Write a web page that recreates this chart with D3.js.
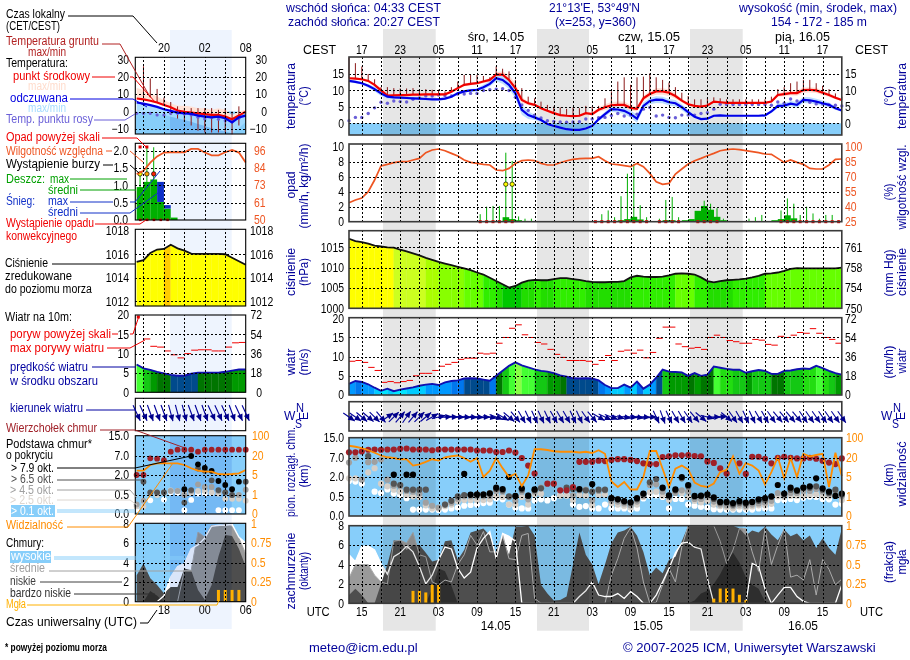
<![CDATA[<!DOCTYPE html>
<html><head><meta charset="utf-8">
<script src="https://cdn.jsdelivr.net/npm/d3@7"></script>
<style>
body{margin:0;background:#fff}
svg{display:block}
text{font-family:"Liberation Sans",Arial,sans-serif;font-size:12px}
.grid line{stroke:#000;stroke-width:1;stroke-dasharray:2 2;shape-rendering:crispEdges}
.grid .domain{display:none}
.ax .domain,.ax line{display:none}
.mult{mix-blend-mode:multiply}
</style></head><body>
<svg id="chart" width="910" height="660"></svg>
<script>
/* Meteogram: small panel on the left is the legend (recent hours), large one the forecast.
 * Hours are counted from 13 UTC on 13.05 in the main panels, left panel from 0 UTC on 13.05. */

const mainTemp = [13.7,13.6,13.4,12.9,11.7,10,8.4,8.5,8.6,8.6, 8.7,8.7,8.8,8.8,8.8,8.8,9.6,10.7,11.7,12, 12.2,12.7,13.2,14.8,14.8,13.2,10.7,7.1,6.1,5.6, 4.6,3.8,3.1,2.5,2.3,2.2,2.3,3.1,2.8,4.1, 4.9,5.5,5.6,5.6,4.7,4.4,7.6,8.9,9.7,9.7, 9.3,8.3,6.9,5.8,5.3,5.1,5.4,6.6,6.4,6.2, 6.2,6.2,6.2,6.2,6.2,6.2,6.6,8.6,8.9,9.2, 9.2,10.1,10.2,10,9.3,8.6,7.8,7.1];
const mainFeel = [12.9,12.6,12.2,11.4,10.4,9.1,8.1,7.9,7.8,7.7, 7.6,7.5,7.4,7.3,7.3,7.5,8.1,9.1,9.7,10, 10.2,11,12,13.7,13.2,11.7,9.1,4.1,2.5,1.8, 1,-0.2,-0.8,-1.3,-1.8,-2,-2,-1.6,-0.8,1.2, 2.8,4.3,4.2,3.8,2.8,1.4,5.3,6.8,7.2,7.1, 6.4,6.1,4.9,3.4,2,1.3,1.4,2.3,2.4,2.3, 2.3,2.3,2.3,2.3,2.3,2.4,3.6,5.3,5.4,6, 5.6,7.1,7,6.6,6.1,5.6,4.6,3.9];
const mainDew = [0.8,1.8,1.8,3,4.7,6.4,6.1,6.8,6.6,6.5, 7.3,7.7,8.3,8.3,8.6,8.4,8.3,8.9,8.9,9.1, 9.1,10,10.2,10.4,10.5,10,7.9,5.6,3.9,2.5, 1.6,0.8,0.6,0.4,0.3,0.4,0.5,1.3,1.3,1.7, 1.8,2.4,3,2.2,2.5,2.8,4.3,4.8,2.2,2.5, 1.8,1.7,2.5,2.5,2.5,3,3.2,4.3,5.8,5.7, 5.7,5.7,5.7,5.7,5.7,5.7,5.5,6.5,6.1,7.4, 6.8,7.1,6.4,5.9,5.9,5.6,5.5,5.3];
const mainTempSpread = [0.3,0.3,0.4,0.4,0.5,0.7,0.7,0.6,0.5,0.4, 0.4,0.4,0.4,0.4,0.4,0.4,0.4,0.4,0.4,0.4, 0.4,0.5,0.6,0.7,1,1.4,1.4,0.9,0.5,0.5, 0.5,0.4,0.4,0.4,0.4,0.4,0.4,0.4,0.5,0.6, 0.9,1,1,1,0.9,0.7,0.8,0.9,1,1, 1,0.8,0.6,0.5,0.4,0.4,0.4,0.3,0.3,0.3, 0.3,0.3,0.3,0.3,0.3,0.3,0.3,0.5,0.7,0.7, 0.8,0.8,0.8,0.8,0.7,0.6,0.5,0.4];
const mainFeelSpread = [0.4,0.4,0.4,0.5,0.7,0.8,0.6,0.5,0.4,0.4, 0.4,0.4,0.4,0.4,0.4,0.4,0.4,0.4,0.4,0.4, 0.5,0.7,0.8,0.9,1.2,1.3,1.5,1.5,1.2,0.8, 0.6,0.4,0.4,0.3,0.3,0.3,0.3,0.3,0.4,0.6, 0.7,0.8,0.9,1,1.1,1.2,1,1,1,1, 1,1,0.9,0.8,0.4,0.4,0.3,0.3,0.3,0.3, 0.2,0.2,0.2,0.2,0.2,0.3,0.5,0.7,0.8,0.8, 0.9,0.9,0.9,0.9,0.8,0.7,0.5,0.4];
const mainGroundMax = [20,18.3,17.3,15,13.4,11,11,10.7,10.6,10.6, 10.7,10.4,10.4,10.2,10.2,9.7,11,12.7,14.7,14.7, 14.7,14.4,14,17.3,16.6,15.8,13.2,10.7,8.1,7.6, 6.6,5.6,5.1,4.8,4.4,4.8,4.6,5.3,5.1,5.3, 7.6,9.7,12.7,14,11.7,14,14.2,15.2,14,13.2, 12.4,11,9.3,8.3,7.3,7.3,7.6,7.9,7.6,7.3, 7.3,7.3,7.3,7.3,7.3,7.3,8.1,10.4,11,12.2, 12.7,13.2,13.2,12.2,11.4,10.4,9.1,8.1];

const mainRh = [44,46.7,48.7,55,66.7,80.7,82.3,84,85,85, 86.7,88.3,94,96.7,97.7,96,93.3,90.7,86.7,84.3, 83.3,82.3,81.7,76.7,76,78.3,83.3,86,86.7,86, 83.3,81.7,81.7,84,86,87.3,88,88.3,88.3,90, 86,82.7,82,81,80,83.3,80,73.3,65,62.3, 63.3,72.7,77.7,82.7,86,88.3,91,93.3,96,97, 97.7,97,96,95,94,92.7,92.3,88.3,84.3,86.7, 84.3,82.3,78.3,77.7,77.7,81.7,87.3,87.7];
const mainRainMax = [0,0,0,0,0,0,0,0,0,0, 0,0,0,0,0,0,0,0,0,0, 1,2,2.1,2.1,9.2,8.1,0.7,0.4,0.4,0, 0,0,0,0,0,0,0,0,0,1, 1.5,0.6,3.4,6.4,7.7,2.2,0.6,0,0.4,2.9, 3.3,0.6,0,0,0.5,2.8,2.4,1.8,0.4,0, 0,0,0.4,0.6,0.9,0,0,1.5,3.1,2.4, 0.9,2,1.1,0.4,0.9,0.9,0.2,0];
const mainRainMean = [0,0,0,0,0,0,0,0,0,0, 0,0,0,0,0,0,0,0,0,0, 0,0.1,0.1,0.1,0.6,0.35,0.2,0.1,0,0, 0,0,0,0,0,0,0,0,0,0, 0,0.1,0.2,0.35,0.65,0.3,0.1,0,0,0.2, 0.2,0,0.2,0.35,1.45,2.1,1.6,0.65,0.2,0, 0,0,0,0,0,0,0.2,0.35,0.85,0.45, 0.1,0,0,0,0,0,0,0];
const mainConvHours = [20,21,22,23,24,25,38,39,40,41,42,43,44,45,46,48,49,50,51,54,55,56,57,67,68,69,70,71,72,73,74,75,76];
const mainStormHours = [24,25];

const mainPressure = [1017.1,1016.5,1016.3,1015.9,1015.4,1015.2,1015,1014.9,1014.4,1014, 1013.5,1013,1012.4,1011.9,1011.4,1011,1010.6,1010.2,1009.8,1009.4, 1008.8,1008.3,1007.5,1006.7,1005.9,1005.1,1005.5,1006.3,1006.8,1007, 1006.9,1006.9,1007.2,1007.4,1007.4,1007.2,1007,1006.7,1006.5,1006.4, 1006.4,1006.5,1006.5,1006.7,1007.6,1008,1007.8,1007.7,1007.7,1007.8, 1008.1,1008.5,1008.6,1008.5,1008.3,1007.6,1006.7,1006.4,1006.7,1006.9, 1007,1007.1,1007.3,1007.6,1008,1008.5,1008.6,1008.8,1009.2,1009.7, 1009.9,1009.8,1009.8,1009.8,1009.8,1009.8,1009.8,1010];
const mmTicks = ["750","754","758","761"];

const mainWind = [2.9,3.65,3.4,2.8,1.9,1.1,1.65,1,1.4,1.7, 2,2.4,2.7,2.9,2.6,3.3,3.65,3.8,4.3,4.35, 4.3,4,3.7,5,6.3,7.6,8.5,7.7,7.2,6.7, 6.3,6.1,5.7,5.1,4.8,4.35,4.3,4.35,4.3,3.8, 2.6,1.8,1.8,2.7,1.9,3.5,1.65,2.7,4.5,6.6, 6.1,6,5.9,5,5.7,5,5.3,7.4,7.1,6.8, 6.6,6.6,5.8,6.2,6.5,6.3,5.5,5.5,6.3,6.4, 6.7,6.9,6.8,7.6,7,6.3,5.7,5.3];
const mainGust = [8.8,9,8.5,7.2,6.4,3.3,3.5,3.2,3.5,3.8, 5,5.65,5.65,6.4,7.5,8,8.5,9.3,9.6,9.6, 10.9,10.7,10.9,13.5,15,17.4,18.3,15.7,15,13.7, 13.3,11.9,10.6,9.8,9,9,9,8.8,8,9, 10.3,9,11.4,11.7,10.9,11.7,9.7,11.1,14.8,17.7, 17.7,13.3,12.6,12.2,12.4,11.9,15,15.6,15,14.2, 13.9,13.5,13.5,14.5,14.3,13.2,13,15.3,15,15.6, 16.3,16.1,17.3,16.1,15,14.5,13.5];
const mainWindDir = [305,305,310,310,315,320,235,225,220,215, 220,225,230,240,255,265,270,272,274,275, 275,272,280,290,300,310,320,330,335,335, 335,335,330,330,330,335,335,325,320,300, 295,290,285,280,275,280,275,270,335,340, 335,330,330,325,320,310,285,270,265,310, 325,330,335,335,330,330,325,320,320,320, 320,325,325,325,325,325,325,325];

const mainCloudTop = [9.3,9.3,9.6,10.3,10.4,10.3,10.4,10.4,10.7,10.8, 10.4,10.4,10.4,10.1,10.4,10.4,10.4,10.4,10.4,10.4, 10,10,10,9.4,9.4,10,9.2,7,5,2.9, null,1.5,1.5,1,1,1.25,6,6,6,6.3, 6.2,6.5,6.7,6.7,6.5,6.2,5.6,5.4,5.4,7.4, 7.7,8.1,8.1,8.2,7.8,7.7,6.1,5.7,4.3,2.9, null,5.6,2.8,7.5,7.5,6.8,5.6,7.1,7.5,7.1, 6.9,6.9,7.1,6.8,6.3,5.8,5.4,6.9];
const mainBase79 = [null,null,null,null,null,null,null,2.6,null,2.6, 2.6,null,null,null,null,null,null,null,2.8,0.68, 0.68,0.68,0.76,1.2,1.1,2,0.58,1.15,0.6,1.07, null,null,null,null,null,null,1.1,null,1.46,null, null,0.47,0.44,0.39,0.36,0.47,0.76,null,null,1.2, 0.63,1.07,2,1.4,0.58,0.6,0.7,0.49,0.37,0.37, 0.34,0.39,0.35,0.37,0.44,0.47,0.55,1.4,0.76,1.2, 1,1.2,1.3,1.9,1.15,0.9,0.58,0.76];
const mainBase65 = [null,null,null,7.8,null,null,null,1.5,1.4,1.05, 1.05,1.05,1.05,null,null,0.3,0.4,0.55,0.65,0.65, 0.7,0.7,0.8,1.1,1,0.55,0.55,1.05,0.6,1, 1.15,null,null,null,1.2,1.1,1.05,1,0.9,1.05, 1.05,0.47,0.44,0.38,0.34,0.44,0.7,1.6,1.85,1.15, 0.6,1,1.9,1.3,0.52,0.55,0.65,0.45,0.35,0.35, 0.3,0.35,0.32,0.36,0.4,0.42,0.5,null,0.7,1.05, 0.95,1.2,1.2,1.3,1.05,0.8,1.05,0.68];
const mainBase45 = [5.8,7.1,1.8,5.9,6,6.6,1.8,1.35,1.3,0.95, 0.9,0.76,0.35,0.27,0.22,0.3,0.35,0.45,0.55,0.55, 0.55,0.55,0.58,0.95,0.9,0.5,0.4,0.9,0.44,0.9, 1.2,null,null,null,null,0.63,1,1.05,0.41,0.95, 1,0.4,0.38,0.33,0.28,0.38,0.6,1.4,1.45,0.9, 0.5,0.8,1,0.9,0.45,0.45,0.5,0.38,0.3,0.28, 0.26,0.3,0.26,0.3,0.33,0.35,0.4,0.8,0.6,0.8, 0.8,0.95,0.95,1.1,0.9,0.7,0.9,0.55];
const mainBase25 = [1.9,1.9,null,3.2,4.3,1.5,1.3,1.05,0.9,0.65, 0.55,0.5,0.28,0.2,0.2,0.26,0.3,0.38,0.42,0.42, 0.42,0.42,0.44,0.58,0.5,0.3,0.3,0.5,0.3,0.7, 0.75,null,null,0.6,0.6,0.42,0.65,0.6,0.28,0.65, 0.68,0.33,0.3,0.27,0.22,0.3,0.5,0.85,0.9,0.6, 0.42,0.9,0.8,0.5,0.4,0.36,0.4,0.3,0.26,0.23, 0.2,0.25,0.22,0.25,0.28,0.28,0.32,0.55,0.5,0.6, 0.6,0.6,0.65,0.7,0.6,0.55,0.6,0.42];
const mainBase01 = [1.7,1.66,1.5,null,0.9,0.8,1.07,0.76,0.63,0.47, 0.17,0.17,0.17,0.17,0.16,0.17,0.2,0.22,0.27,0.29, 0.3,0.34,0.35,0.47,0.44,0.3,0.22,0.2,0.2,0.41, 0.44,0.41,0.47,0.63,0.63,0.3,0.24,0.26,0.2,0.2, 0.3,0.2,0.2,0.2,0.17,0.2,0.46,0.6,0.62,0.5, 0.2,0.45,0.45,0.3,0.27,0.24,0.22,0.18,0.17,0.17, 0.17,0.17,0.17,0.17,0.2,0.2,0.2,0.42,0.42,0.45, 0.42,0.48,0.52,0.5,0.45,0.44,0.3,0.32];
const mainVisibility = [69,65,60,51,41,30,23,20,19,19, 14,15,17,19,18,23,27,30,20,17, 20,5,10,20,12,5,7.6,3.2,6.3,55, 55,52,47,45,45,45,42,45,40,51, 37,4.1,3,4,2.5,2.5,5,48,48,11.5, 3,11.5,14,11,3.9,3.2,3,3.7,8.9,10.7, 27,7.6,16,14,10,3.5,8.9,23,4.7,20, 5,37,26,32,37,3,41,5.8];

const mainHigh = [5,4.3,5.9,5.9,5.5,4.1,3,4.8,5.2,5.9, 5.3,3.8,2,2.9,4.5,5.8,5.6,3.6,2.6,3.2, 5.7,6.7,7.4,4.6,7.2,6.9,6.4,0,0,0, 0,0,0,0,0,0,0.7,1.3,2.2,0.85, 0.7,0.7,1,0.5,1.2,0.7,0,0,0.85,2.2, 3.6,5.2,6.2,6.3,5.8,5.6,2.6,0,0,0, 0,0,0,4.1,3.8,1.5,0,0.85,1.65,1.65, 0.7,0.2,0,0,0,0,0,1.9];
const mainMedium = [2.6,4,4,4,2.9,2.2,2,6.4,6.5,6.2, 7.3,5,4.8,2.2,1.9,2.4,2.2,4,5,7, 6,7.4,5.3,5.3,7.1,4.6,4.5,7,7.2,0.5, 0,0,0,0,0,0,0,0,0,0, 0,2.9,4.6,6.7,7.8,5.7,2.2,0,0.1,1.9, 3.6,2.2,5.8,8,8,8,8,8,6.4,4.1, 5.5,7.7,7.7,5.3,3.3,7.7,4,6,7.7,2.7, 2.9,2.4,4.5,0.85,4.5,3.5,1.9,2.5];
const mainLow = [0.85,1.5,0.85,0,0,2,4,6.5,6.4,5.5, 6,6,5.2,4.3,4.5,6.4,6.5,4.5,5.5,7.3, 7.5,7.7,7,5,6.7,5,7.9,7.9,8,7, 1.9,1,0.3,0.35,0.7,4,7.3,5,4,2, 4,6.2,7.3,7.5,7.9,7,5.3,2.9,3.7,3.1, 4.5,4.8,6.4,8,8,8,8,8,8,8, 8,7.7,7,7.5,7.3,7.9,7.1,6.5,7.6,6.9, 7.2,6.5,7,5.7,6.7,5.7,5,7.7];
const mainVeryLow = [0,0,0,0,0,0,0,0,0,0, 0,0,0,1.5,3.6,3.3,1.8,0,0,0, 0,0,0,0,0,0,0,0,0,0, 0,0,0,0,0,0,0,0,0,0, 0,0,0,0,0,0,0,0,0,0, 0,0,0,0,0.3,1,1.3,2,3,4.3, 5.2,4.2,2.7,1.9,1.5,0.2,0,0,0,0, 0,0,0,0,0,0,0,0];
const mainFog = {10:0.16,11:0.16,12:0.14,13:0.24,14:0.24,57:0.06,58:0.19,59:0.19,60:0.19,61:0.11,62:0.04};

// Left panel, hours 14 ... 30 UTC
const leftHours = d3.range(14, 31);
const leftTemp = [7.5,7,6.2,5.2,3.8,2.5,0.6,-0.2,-0.6,-1,-1.5,-1.9,-1.9,-2.9,-4.4,-2.3,0];
const leftFeel = [5.2,4.6,3.7,2.7,1.3,0.4,-0.6,-1,-1.3,-2.3,-2.9,-3.3,-2.9,-3.8,-6.2,-3.3,-2.3];
const leftTempMax = [13.5,12.5,10.6,8.7,6.7,4.8,3.3,3.3,2.9,1.9,1.9,1,1.9,1,-1.9,0,1];
const leftFeelMin = [0,0,-0.6,-1.3,-1.9,-2.9,-3.8,-4.8,-5.8,-7.1,-8.3,-9.6,-10.6,-11.5,-12.5,-9.6,-5.8];
const leftDew = [-1,-1,-1,-1.9,-1.9,-1,-1,-1.3,-1.9,-3.3,-4.2,-3.3,-4.4,-5.2,-5.8,-3.8,null];
const leftGroundMax = [null,26,19,13,8,5.5,3,2,2,2,2,2,1,2,0,3,null];
const leftGroundMin = [null,9,8,5,4,-2,-4,-6,-8,-11,-12,-12,-12,-12,-13,-8,null];
const leftRh = [79.9,82,87.6,92,94.7,94.9,94.9,94.9,97.3,97.3,94.7,92.7,92.7,94.9,96.5,94.7,87.6];
const leftRainMean = [0.95,1.1,1.17,0.52,0.33,0.07,0,0,0,0,0,0,0,0,0,0];
const leftSnowMean = [0,0,0,0.58,0.1,0,0,0,0,0,0,0,0,0,0,0];
const leftRainMax = [1.35,2.1,2.1];
const leftOverflowHours = [15,16];
const leftStormColors = ["#ffff00","#ffaa00","#ff2000"];
const leftPressure = [1015.35,1015.5,1016.1,1016.4,1016.45,1016.8,1016.5,1016.3,1016.05,1016.03,1016.03,1016.03,1016.03,1016,1015.7,1015.4,1015.1];
const leftWind = [7.2,6.2,5.8,5.3,4.9,4.5,4.3,4.3,4.8,5.1,5.1,5.1,5.1,5.3,5.6,5.9,5.9];
const leftGust = [null,13.8,11.9,11.7,10.7,9.7,8.9,10,10.9,11,11,10.7,10.7,11.7,12.8,12.9];
const leftWindDir = [335,335,340,340,340,345,345,345,340,340,340,335,335,335,340,335,335];
const leftCloudTop = [2,2,6.4,6.3,5.9,8.7,9.5,9.5,9.5,8.7,9.5,9.5,9.5,9.5,9.5,9.5,9.5];
const leftBase79 = [null,null,null,null,null,null,null,0.93,7,4.8,3.9,3.1,1.55,1.25,0.93,1.5,null];
const leftBase65 = [null,1.5,0.7,0.7,0.7,null,null,0.3,0.87,3.7,3.1,1.6,0.87,0.7,0.5,null,1.5];
const leftBase45 = [0.25,0.35,0.65,0.65,0.7,0.8,0.8,0.5,0.8,1.3,1.1,1.1,0.8,0.7,0.5,0.5,0.9];
const leftBase25 = [0.2,0.2,null,0.5,0.65,0.85,0.8,0.6,0.65,0.8,0.8,0.7,0.6,0.4,0.4,0.4,0.35];
const leftBase01 = [0.12,0.35,0.36,null,0.38,0.7,0.67,0.1,0.37,0.6,0.62,0.65,0.1,0.1,0.1,0.1,null];
const leftVisibility = [8.4,8.4,12.9,14.2,14.2,14.2,14.2,12.9,10.3,8.4,7.6,7.6,5.8,5.5,5.8,6.3,8.9];
const leftHigh = [0,0,0,0,0.6,2.55,3.6,3.9,5.4,5.8,6.5,7.7,7.8,7.8,7.9,6.6,6];
const leftMedium = [0,0,0,0,0,0,0,3.2,3.2,7.1,6.6,7.8,7.7,7.9,7.7,6.5,4.9];
const leftLow = [2.7,3.9,2.4,1.7,0.85,1.5,1.5,3.4,3.2,1.2,0.2,1.7,4.6,6.8,6.7,5.4,3.6];
const leftVeryLow = [0,0,1.1,0.6,0,0,0,0,0,0,0,0,0,0,0,0,0];
const leftFog = {26:0.15,27:0.15,28:0.15,29:0.15};

const topTicks = ["17","23","05","11","17","23","05","11","17","23","05","11","17"];
const bottomTicks = ["15","21","03","09","15","21","03","09","15","21","03","09","15"];

const svg = d3.select("#chart");
const SKY = "#87cefa", NAVY = "#000099", RHCOL = "#ee5522", ORANGE = "#ff8c00", FOGCOL = "#ffb000", TINT = "#eaf0fa";
const hrs = d3.range(0, 78);

const xMain = d3.scaleLinear().domain([0, 77]).range([349, 841.8]);
const xLeft = d3.scaleLinear().domain([13.8, 30]).range([135.3, 245.7]);
const L = { x0: 135.3, x1: 245.7 }, M = { x0: 349, x1: 841.8 };

const pressColor = d3.scaleThreshold().domain([1006, 1007, 1008.4, 1010, 1011.5, 1013, 1015])
  .range(["#00c800","#22dd00","#30ee00","#66ff00","#88ff00","#aaff00","#ccff20","#ffff00"]);
const windColor = d3.scaleThreshold().domain([1.5,2.5,3.5,4,4.9,5.6,6.2,6.8,7.2,8])
  .range(["#00e6ff","#00ccff","#0099ff","#0077ee","#004a8c","#007500","#009a00","#14c814","#22dd11","#44ff33","#88ff44"]);

// background bands behind everything
[[383,435.7],[537,589],[690,742.7]].forEach(([a,b]) =>
  svg.append("rect").attr("x",a).attr("y",29).attr("width",b-a).attr("height",601.7).attr("fill","#e6e6e6"));
svg.append("rect").attr("x",170).attr("y",30).attr("width",61.7).attr("height",599).attr("fill","#eef4fe");

function grid(g, box, xs, y, yTicks, hours) {
  const w = box.x1 - box.x0, h = box.yb - box.yt;
  g.append("g").attr("class","grid").attr("transform",`translate(0,${box.yb})`)
    .call(d3.axisBottom(xs).tickValues(hours).tickSize(-h).tickFormat(""));
  if (yTicks.length) g.append("g").attr("class","grid").attr("transform",`translate(${box.x0},0)`)
    .call(d3.axisLeft(y).tickValues(yTicks).tickSize(-w).tickFormat(""));
}

function frame(g, box, main) {
  g.append("rect").attr("x",box.x0).attr("y",box.yt).attr("width",box.x1-box.x0).attr("height",box.yb-box.yt)
    .attr("fill","none").attr("stroke",main ? "#3a3a3a" : "#000").attr("stroke-width",main ? 1.6 : 1.1);
}

// the reference font is tall and narrow, so squeeze the digits a bit
function squeeze(sel) {
  sel.each(function () {
    const s = this.textContent;
    let w = 0;
    for (const c of s) w += c === "." ? 3 : c === "-" ? 4 : 5.8;
    d3.select(this).attr("textLength",w).attr("lengthAdjust","spacingAndGlyphs");
  });
}
function axisL(g, y, x, vals, fmt) {
  const a = g.append("g").attr("class","ax").attr("transform",`translate(${x},0)`)
    .call(d3.axisLeft(y).tickValues(vals).tickSize(0).tickPadding(0).tickFormat(fmt || d3.format("d")));
  a.selectAll("text").attr("fill","#000").style("font-size","12px").call(squeeze);
}
function axisR(g, y, x, vals, fmt, color, anchor) {
  const a = g.append("g").attr("class","ax").attr("transform",`translate(${x},0)`)
    .call(d3.axisRight(y).tickValues(vals).tickSize(0).tickPadding(0).tickFormat(fmt || d3.format("d")));
  a.selectAll("text").attr("fill",color || "#000").style("font-size","12px").call(squeeze);
  if (anchor) a.selectAll("text").attr("text-anchor",anchor);
}

function line(xs, y, hours, vals) {
  return d3.line().defined((d) => d.v != null).x((d) => xs(d.h)).y((d) => y(d.v))(hours.map((h, i) => ({ h, v: vals[i] })));
}
function areaBetween(xs, y, hours, lo, hi) {
  return d3.area().x((d) => xs(d.h)).y0((d) => y(d.a)).y1((d) => y(d.b))(hours.map((h, i) => ({ h, a: lo[i], b: hi[i] })));
}
function dots(g, xs, y, hours, vals, r, color) {
  g.append("g").selectAll("circle").data(hours.map((h, i) => ({ h, v: vals[i] })).filter((d) => d.v != null))
    .enter().append("circle").attr("cx",(d) => xs(d.h)).attr("cy",(d) => y(d.v)).attr("r",r).attr("fill",color);
}
function coloredArea(g, xs, y, hours, vals, floor, colorOf) {
  hours.slice(0, -1).forEach((h, i) => {
    const seg = [h, h + 1];
    g.append("path").attr("d", areaBetween(xs, y, seg, [floor, floor], [vals[i], vals[i + 1]]))
      .attr("fill", colorOf(vals[i], i)).attr("stroke", colorOf(vals[i], i)).attr("stroke-width", 0.3);
  });
}
function arrows(g, xs, hours, dirs, yc, len) {
  hours.forEach((h, i) => {
    const rad = dirs[i] * Math.PI / 180, sx = Math.sin(rad), sy = -Math.cos(rad);
    const cx = xs(h), tx = cx + sx * len / 2, ty = yc + sy * len / 2, hx = cx - sx * len / 2, hy = yc - sy * len / 2;
    g.append("line").attr("x1",tx).attr("y1",ty).attr("x2",hx).attr("y2",hy).attr("stroke",NAVY).attr("stroke-width",1.1);
    const bx = hx + sx * 6.5, by = hy + sy * 6.5, px = -sy * 3, py = sx * 3;
    g.append("polygon").attr("points",`${hx},${hy} ${bx+px},${by+py} ${bx-px},${by-py}`).attr("fill","#00008b");
  });
}
function cloudLayers(g, xs, y, box, hours, high, medium, low, veryLow, fog, tint) {
  const zero = hours.map(() => 0);
  const c = g.append("g").attr("class","mult");
  c.append("rect").attr("x",box.x0).attr("y",box.yt).attr("width",box.x1-box.x0).attr("height",box.yb-box.yt).attr("fill",SKY);
  c.append("path").attr("d",areaBetween(xs,y,hours,zero,high)).attr("fill","#fff");
  c.append("path").attr("d",areaBetween(xs,y,hours,zero,medium)).attr("fill","#9a9a9a");
  c.append("path").attr("d",areaBetween(xs,y,hours,zero,low)).attr("fill","#4e4e4e");
  c.append("path").attr("d",areaBetween(xs,y,hours,zero,veryLow)).attr("fill","#2e2e2e");
  c.append("path").attr("d",line(xs,y,hours,medium)).attr("fill","none").attr("stroke","#aaa").attr("stroke-width",1);
  c.append("path").attr("d",line(xs,y,hours,high)).attr("fill","none").attr("stroke","#fff").attr("stroke-width",1.3);
  if (tint) c.append("rect").attr("x",170).attr("y",box.yt).attr("width",61.7).attr("height",box.yb-box.yt).attr("fill",TINT).style("mix-blend-mode","multiply");
  const frac = d3.scaleLinear().domain([0, 1]).range([box.yb, box.yt]);
  Object.entries(fog).forEach(([h, f]) => {
    g.append("rect").attr("x",xs(+h)-1.5).attr("y",frac(f)).attr("width",3).attr("height",box.yb-frac(f)).attr("fill",FOGCOL);
  });
}

/* ---------- main panels ---------- */
const mGridH = d3.range(2, 77, 3);
const M1 = { ...M, yt: 57, yb: 135 };
const yTempM = d3.scaleLinear().domain([0, 15]).range([123.3, 74]);
const m1 = svg.append("g");
m1.append("rect").attr("class","mult").attr("x",M.x0).attr("y",yTempM(0)).attr("width",M.x1-M.x0).attr("height",M1.yb-yTempM(0)).attr("fill",SKY);
const tHi = mainTemp.map((v, i) => v + mainTempSpread[i]), tLo = mainTemp.map((v, i) => v - mainTempSpread[i]);
const fHi = mainFeel.map((v, i) => v + mainFeelSpread[i]), fLo = mainFeel.map((v, i) => v - mainFeelSpread[i]);
m1.append("path").attr("d",areaBetween(xMain,yTempM,hrs,tLo,tHi)).attr("fill","#ffd8cc").attr("opacity",.85);
m1.append("path").attr("d",areaBetween(xMain,yTempM,hrs,fLo,fHi)).attr("fill","#b5dcff").attr("opacity",.9);
m1.selectAll(".gw").data(hrs).enter().append("line").attr("x1",(h) => xMain(h)).attr("x2",(h) => xMain(h))
  .attr("y1",(h) => yTempM(mainGroundMax[h])).attr("y2",(h) => yTempM(mainTemp[h])).attr("stroke","#8b1a1a").attr("stroke-width",1);
dots(m1,xMain,yTempM,hrs,mainDew,1.7,"#6a5fd8");
m1.append("path").attr("d",line(xMain,yTempM,hrs,mainTemp)).attr("fill","none").attr("stroke","#f00000").attr("stroke-width",2.2);
m1.append("path").attr("d",line(xMain,yTempM,hrs,mainFeel)).attr("fill","none").attr("stroke","#0000e8").attr("stroke-width",2.2);
grid(m1,M1,xMain,yTempM,[0,5,10,15],mGridH);
axisL(m1,yTempM,344,[0,5,10,15]);
axisR(m1,yTempM,845,[0,5,10,15]);
frame(m1,M1,true);

const M2 = { ...M, yt: 144, yb: 221.7 };
const yRain = d3.scaleLinear().domain([0, 10]).range([221.7, 146.7]);
const yRhM = d3.scaleLinear().domain([25, 100]).range([221.7, 146.7]);
const m2 = svg.append("g");
m2.selectAll(".rm").data(hrs.filter((h) => mainRainMean[h] > 0)).enter().append("rect")
  .attr("x",(h) => xMain(h)).attr("width",xMain(1)-xMain(0)+0.2).attr("y",(h) => yRain(mainRainMean[h]))
  .attr("height",(h) => yRain(0)-yRain(mainRainMean[h])).attr("fill","#00b000");
m2.selectAll(".rx").data(hrs.filter((h) => mainRainMax[h] > 0)).enter().append("line")
  .attr("x1",(h) => xMain(h+.5)).attr("x2",(h) => xMain(h+.5)).attr("y1",(h) => yRain(mainRainMax[h])).attr("y2",yRain(0))
  .attr("stroke","#00b000").attr("stroke-width",1);
m2.append("path").attr("d",line(xMain,yRhM,hrs,mainRh)).attr("fill","none").attr("stroke",RHCOL).attr("stroke-width",1.7);
grid(m2,M2,xMain,yRain,[2,4,6,8],mGridH);
m2.selectAll(".cv").data(mainConvHours).enter().append("rect").attr("x",(h) => xMain(h+.5)-1.5).attr("y",yRain(0)-1.5)
  .attr("width",3).attr("height",3).attr("fill","#e00000");
m2.selectAll(".st").data(mainStormHours).enter().append("circle").attr("cx",(h) => xMain(h+.5)).attr("cy",yRain(5)).attr("r",2.2)
  .attr("fill","#ffff00").attr("stroke","#000").attr("stroke-width",.7);
axisL(m2,yRain,344,[0,2,4,6,8,10]);
axisR(m2,yRhM,845,[25,40,55,70,85,100],null,RHCOL);
frame(m2,M2,true);

const M3 = { ...M, yt: 230.7, yb: 308.3 };
const yPress = d3.scaleLinear().domain([1000, 1015]).range([308.3, 247.3]);
const m3 = svg.append("g");
coloredArea(m3,xMain,yPress,hrs,mainPressure,1000,pressColor);
m3.append("path").attr("d",line(xMain,yPress,hrs,mainPressure)).attr("fill","none").attr("stroke","#111").attr("stroke-width",1.8);
grid(m3,M3,xMain,yPress,[1005,1010,1015],mGridH);
axisL(m3,yPress,344,[1000,1005,1010,1015]);
axisR(m3,yPress,845,[1000,1005,1010,1015],(d,i) => mmTicks[i]);
frame(m3,M3,true);

const M4 = { ...M, yt: 317.7, yb: 395 };
const yWindM = d3.scaleLinear().domain([0, 20]).range([395, 318.3]);
const m4 = svg.append("g");
coloredArea(m4,xMain,yWindM,hrs,mainWind,0,windColor);
m4.append("path").attr("d",line(xMain,yWindM,hrs,mainWind)).attr("fill","none").attr("stroke","#1010b0").attr("stroke-width",1.9);
m4.selectAll(".gu").data(mainGust).enter().append("line").attr("x1",(d,i) => xMain(i)).attr("x2",(d,i) => xMain(i+1))
  .attr("y1",(d) => yWindM(d)).attr("y2",(d) => yWindM(d)).attr("stroke","#f00000").attr("stroke-width",1);
grid(m4,M4,xMain,yWindM,[5,10,15],mGridH);
axisL(m4,yWindM,344,[0,5,10,15,20]);
axisR(m4,d3.scaleLinear().domain([0,72]).range([395,318.3]),845,[0,18,36,54,72]);
frame(m4,M4,true);

const M5 = { ...M, yt: 401.7, yb: 431 };
const m5 = svg.append("g");
grid(m5,M5,xMain,null,[],mGridH);
frame(m5,M5,true);
arrows(m5,xMain,hrs,mainWindDir,417,14);

const M6 = { ...M, yt: 437.7, yb: 516 };
const yBaseM = d3.scaleLinear().domain([0,0.5,2,7,15]).range([516,497,477,458,438]);
const yVisM = d3.scaleLinear().domain([0,1,5,20,100]).range([516,497,477,458,438]);
const m6 = svg.append("g");
m6.append("rect").attr("class","mult").attr("x",M.x0).attr("y",M6.yt).attr("width",M.x1-M.x0).attr("height",M6.yb-M6.yt).attr("fill",SKY);
dots(m6,xMain,yBaseM,hrs,mainBase01,3.1,"#fff");
dots(m6,xMain,yBaseM,hrs,mainBase25,3.1,"#d5cfc8");
dots(m6,xMain,yBaseM,hrs,mainBase45,3.1,"#a0a0a0");
dots(m6,xMain,yBaseM,hrs,mainBase65,3.1,"#555");
dots(m6,xMain,yBaseM,hrs,mainBase79,3.1,"#000");
dots(m6,xMain,yBaseM,hrs,mainCloudTop,3.1,"#a02028");
m6.append("path").attr("d",line(xMain,yVisM,hrs,mainVisibility)).attr("fill","none").attr("stroke",ORANGE).attr("stroke-width",1.8);
grid(m6,M6,xMain,yBaseM,[0.5,2,7],mGridH);
axisL(m6,yBaseM,344,[0,0.5,2,7,15],d3.format(".1f"));
axisR(m6,yVisM,846,[0,1,5,20,100],null,ORANGE);
frame(m6,M6,true);

const M7 = { ...M, yt: 525.7, yb: 603.3 };
const yCoverM = d3.scaleLinear().domain([0, 8]).range([603.3, 525.7]);
const yFracM = d3.scaleLinear().domain([0, 1]).range([603.3, 525.7]);
const m7 = svg.append("g");
cloudLayers(m7,xMain,yCoverM,M7,hrs,mainHigh,mainMedium,mainLow,mainVeryLow,mainFog,false);
grid(m7,M7,xMain,yCoverM,[2,4,6],mGridH);
axisL(m7,yCoverM,344,[0,2,4,6,8]);
axisR(m7,yFracM,846,[0,0.25,0.5,0.75,1],(d) => String(d),ORANGE);
frame(m7,M7,true);

/* ---------- left panels ---------- */
const lGridH = [15,18,21,24,27];
const L1 = { ...L, yt: 57.3, yb: 134 };
const yTempL = d3.scaleLinear().domain([-10, 30]).range([129, 59.3]);
const l1 = svg.append("g");
l1.append("rect").attr("class","mult").attr("x",L.x0).attr("y",yTempL(0)).attr("width",L.x1-L.x0).attr("height",L1.yb-yTempL(0)).attr("fill",SKY);
l1.append("rect").attr("class","mult").attr("x",170).attr("y",yTempL(0)).attr("width",61.7).attr("height",L1.yb-yTempL(0)).attr("fill",TINT);
l1.append("path").attr("d",areaBetween(xLeft,yTempL,leftHours,leftTemp,leftTempMax)).attr("fill","#ffe2d6");
l1.append("path").attr("d",areaBetween(xLeft,yTempL,leftHours,leftFeelMin,leftFeel)).attr("fill","#a5dcff").attr("opacity",.9);
leftHours.forEach((h, i) => {
  if (leftGroundMax[i] == null) return;
  l1.append("line").attr("x1",xLeft(h)).attr("x2",xLeft(h)).attr("y1",yTempL(leftGroundMax[i])).attr("y2",yTempL(leftGroundMin[i])).attr("stroke","#8b1a1a");
});
dots(l1,xLeft,yTempL,leftHours,leftDew,1.6,"#6a5fd8");
l1.append("path").attr("d",line(xLeft,yTempL,leftHours,leftTemp)).attr("fill","none").attr("stroke","#f00000").attr("stroke-width",2.2);
l1.append("path").attr("d",line(xLeft,yTempL,leftHours,leftFeel)).attr("fill","none").attr("stroke","#0000e8").attr("stroke-width",2.2);
grid(l1,L1,xLeft,yTempL,[-10,0,10,20],lGridH);
axisL(l1,yTempL,129,[-10,0,10,20,30]);
axisR(l1,yTempL,267,[-10,0,10,20,30],null,"#000","end");
frame(l1,L1,false);

const L2 = { ...L, yt: 143.3, yb: 220 };
const yRainL = d3.scaleLinear().domain([0, 2]).range([220, 150.7]);
const yRhL = d3.scaleLinear().domain([50,61,73,84,96]).range([220,202.7,185,167.7,150.7]);
const l2 = svg.append("g");
leftRainMean.forEach((v, i) => {
  if (!v) return;
  const x0 = Math.max(L.x0, xLeft(leftHours[i])), x1 = xLeft(leftHours[i] + 1);
  l2.append("rect").attr("x",x0).attr("width",x1-x0).attr("y",yRainL(v)).attr("height",yRainL(0)-yRainL(v)).attr("fill","#00b000");
  if (leftSnowMean[i]) l2.append("rect").attr("x",x0).attr("width",x1-x0).attr("y",yRainL(v+leftSnowMean[i])).attr("height",yRainL(v)-yRainL(v+leftSnowMean[i])).attr("fill","#1030c8");
});
leftRainMax.forEach((v, i) => {
  const x = xLeft(14.5 + i);
  l2.append("line").attr("x1",x).attr("x2",x).attr("y1",yRainL(v)).attr("y2",yRainL(0)).attr("stroke","#00b000");
  l2.append("circle").attr("cx",x).attr("cy",yRainL(1.33)).attr("r",2.2).attr("fill",leftStormColors[i]).attr("stroke","#000").attr("stroke-width",.7);
});
leftOverflowHours.forEach((h) => {
  l2.append("rect").attr("x",xLeft(h-.5)-1.5).attr("y",145.5).attr("width",3).attr("height",3).attr("fill","#e00000");
});
l2.append("path").attr("d",line(xLeft,yRhL,leftHours,leftRh)).attr("fill","none").attr("stroke",RHCOL).attr("stroke-width",1.8);
grid(l2,L2,xLeft,yRainL,[0.5,1,1.5,2],lGridH);
d3.range(14,19).forEach((h) => l2.append("rect").attr("x",xLeft(h+.5)-1).attr("y",218.6).attr("width",2.5).attr("height",2.5).attr("fill","#e00000"));
axisL(l2,yRainL,128,[0,0.5,1,1.5,2],d3.format(".1f"));
axisR(l2,yRhL,254,[50,61,73,84,96],null,RHCOL);
frame(l2,L2,false);

const L3 = { ...L, yt: 229.3, yb: 306 };
const yPressL = d3.scaleLinear().domain([1012, 1018]).range([301.3, 230.7]);
const l3 = svg.append("g");
coloredArea(l3,xLeft,yPressL,leftHours,leftPressure,1011.6,(v,i) => i === 4 ? "#ffcc00" : "#ffff00");
l3.append("path").attr("d",line(xLeft,yPressL,leftHours,leftPressure)).attr("fill","none").attr("stroke","#111").attr("stroke-width",1.8);
grid(l3,L3,xLeft,yPressL,[1012,1014,1016],lGridH);
axisL(l3,yPressL,129,[1012,1014,1016,1018]);
axisR(l3,yPressL,250,[1012,1014,1016,1018]);
frame(l3,L3,false);

const L4 = { ...L, yt: 315, yb: 392.3 };
const yWindL = d3.scaleLinear().domain([0, 20]).range([392.3, 315]);
const l4 = svg.append("g");
coloredArea(l4,xLeft,yWindL,leftHours,leftWind,0,windColor);
l4.append("path").attr("d",line(xLeft,yWindL,leftHours,leftWind)).attr("fill","none").attr("stroke","#1010b0").attr("stroke-width",1.9);
leftGust.forEach((v, i) => {
  if (v == null) return;
  l4.append("line").attr("x1",xLeft(leftHours[i])).attr("x2",xLeft(leftHours[i]+1)).attr("y1",yWindL(v)).attr("y2",yWindL(v)).attr("stroke","#f00000");
});
l4.append("rect").attr("x",136.8).attr("y",315.5).attr("width",3).attr("height",3).attr("fill","#e00000");
grid(l4,L4,xLeft,yWindL,[5,10,15],lGridH);
axisL(l4,yWindL,129,[0,5,10,15,20]);
axisR(l4,d3.scaleLinear().domain([0,72]).range([392.3,315]),262,[0,18,36,54,72],null,"#000","end");
frame(l4,L4,false);

const L5 = { ...L, yt: 398.3, yb: 430.7 };
const l5 = svg.append("g");
grid(l5,L5,xLeft,null,[],lGridH);
frame(l5,L5,false);
arrows(l5,xLeft,leftHours,leftWindDir,413,17);

const L6 = { ...L, yt: 435.7, yb: 514 };
const yBaseL = d3.scaleLinear().domain([0,0.5,2,7,15]).range([514,495,475,456,435.7]);
const yVisL = d3.scaleLinear().domain([0,1,5,20,100]).range([514,495,475,456,435.7]);
const l6 = svg.append("g");
l6.append("rect").attr("class","mult").attr("x",L.x0).attr("y",L6.yt).attr("width",L.x1-L.x0).attr("height",L6.yb-L6.yt).attr("fill",SKY);
l6.append("rect").attr("class","mult").attr("x",170).attr("y",L6.yt).attr("width",61.7).attr("height",L6.yb-L6.yt).attr("fill",TINT);
dots(l6,xLeft,yBaseL,leftHours,leftBase01,2.9,"#fff");
dots(l6,xLeft,yBaseL,leftHours,leftBase25,2.9,"#d5cfc8");
dots(l6,xLeft,yBaseL,leftHours,leftBase45,2.9,"#a0a0a0");
dots(l6,xLeft,yBaseL,leftHours,leftBase65,2.9,"#555");
dots(l6,xLeft,yBaseL,leftHours,leftBase79,2.9,"#000");
dots(l6,xLeft,yBaseL,leftHours,leftCloudTop,2.9,"#a02028");
l6.append("path").attr("d",line(xLeft,yVisL,leftHours,leftVisibility)).attr("fill","none").attr("stroke",ORANGE).attr("stroke-width",1.8);
grid(l6,L6,xLeft,yBaseL,[0.5,2,7],lGridH);
axisL(l6,yBaseL,129,[0,0.5,2,7,15],d3.format(".1f"));
axisR(l6,yVisL,252,[0,1,5,20,100],null,ORANGE);
frame(l6,L6,false);

const L7 = { ...L, yt: 523.3, yb: 601.7 };
const yCoverL = d3.scaleLinear().domain([0, 8]).range([601.7, 523.3]);
const l7 = svg.append("g");
cloudLayers(l7,xLeft,yCoverL,L7,leftHours,leftHigh,leftMedium,leftLow,leftVeryLow,leftFog,true);
grid(l7,L7,xLeft,yCoverL,[2,4,6],lGridH);
axisL(l7,yCoverL,129,[0,2,4,6,8]);
axisR(l7,d3.scaleLinear().domain([0,1]).range([601.7,523.3]),251,[0,0.25,0.5,0.75,1],(d) => String(d),ORANGE);
frame(l7,L7,false);

/* ---------- texts ---------- */
function txt(x, y, s, color, len, anchor) {
  const t = svg.append("text").attr("x",x).attr("y",y).text(s).attr("fill",color || "#000");
  if (len) t.attr("textLength",len).attr("lengthAdjust","spacingAndGlyphs");
  if (anchor) t.attr("text-anchor",anchor);
  return t;
}
function vert(x, yc, s, len) {
  return svg.append("text").attr("transform",`translate(${x},${yc}) rotate(-90)`).attr("text-anchor","middle").attr("fill",NAVY)
    .attr("textLength",len).attr("lengthAdjust","spacingAndGlyphs").text(s);
}

topTicks.forEach((s, i) => txt(xMain(2 + 6 * i), 54, s, "#000", 11.5, "middle"));
bottomTicks.forEach((s, i) => txt(xMain(2 + 6 * i), 616, s, "#000", 11.5, "middle"));
txt(303,54,"CEST","#000",33); txt(855,54,"CEST","#000",33);
txt(306.7,616,"UTC","#000",23); txt(860,616,"UTC","#000",23);
txt(467.7,40.7,"śro, 14.05","#000",56.6);
txt(618,40.7,"czw, 15.05","#000",62);
txt(775,40.7,"pią, 16.05","#000",55);
txt(495.7,629.5,"14.05","#000",30,"middle");
txt(648,629.5,"15.05","#000",30,"middle");
txt(803,629.5,"16.05","#000",30,"middle");

[["20",18],["02",24],["08",30]].forEach(([s,h]) => txt(xLeft(h),51.5,s,"#000",12,"middle"));
[["18",18],["00",24],["06",30]].forEach(([s,h]) => txt(xLeft(h),614,s,"#000",12,"middle"));

txt(286,12,"wschód słońca: 04:33 CEST",NAVY,155);
txt(288,25.7,"zachód słońca: 20:27 CEST",NAVY,152);
txt(549,12,"21°13'E, 53°49'N",NAVY,91);
txt(555,25.5,"(x=253, y=360)",NAVY,81);
txt(739,12,"wysokość (min, środek, max)",NAVY,158);
txt(771,25.5,"154 - 172 - 185 m",NAVY,96);
txt(309,652,"meteo@icm.edu.pl",NAVY,108.7);
txt(623,652,"© 2007-2025 ICM, Uniwersytet Warszawski",NAVY,252.7);

vert(295,96,"temperatura",66); vert(308,96,"(°C)",19);
vert(295,185,"opad",27); vert(308,186,"(mm/h, kg/m²/h)",85);
vert(295,272,"ciśnienie",48); vert(308,272,"(hPa)",28);
vert(295,362,"wiatr",27); vert(308,362,"(m/s)",27);
vert(295,472,"pion. rozciągł. chm.",90); vert(308,476,"(km)",23);
vert(295,571,"zachmurzenie",77); vert(308,571,"(oktanty)",38);
vert(906,96,"temperatura",66); vert(893,96,"(°C)",20);
vert(906,187,"wilgotność wzgl.",85); vert(893,192,"(%)",17);
vert(906,272,"ciśnienie",48); vert(893,273,"(mm Hg)",47);
vert(906,361,"wiatr",25); vert(893,362,"(km/h)",33);
vert(906,474,"widzialność",65); vert(893,475,"(km)",23);
vert(906,562,"mgła",25); vert(893,562,"(frakcja)",42);

// compass letters next to wind direction
[[284,0],[881,597]].forEach(([wx, off]) => {
  txt(wx,420,"W",NAVY);
  txt(296+off,412,"N",NAVY,8);
  txt(295+off,428,"S",NAVY,7);
  svg.append("text").attr("transform",`translate(${308+off},420) rotate(-90)`).attr("fill",NAVY).text("E");
});

// left legend: x, baseline, text, colour, width read from the picture
const legend = [
  [6,18,"Czas lokalny","#000",59],[6,30,"(CET/CEST)","#000",54],
  [6,45,"Temperatura gruntu","#b22222",93],[28,56,"max/min","#b22222",38],
  [6,67,"Temperatura:","#000",62],[13,80,"punkt środkowy","#f00000",77],[28,90,"max/min","#ffdccc",38],
  [10,102,"odczuwana","#0000e0",58],[28,112,"max/min","#a5dcff",38],[6,123,"Temp. punktu rosy","#6a5fd8",87],
  [6,140.5,"Opad powyżej skali","#f00000",94],[6,154.5,"Wilgotność względna",RHCOL,97],[6,168,"Wystąpienie burzy","#000",94],
  [6,183,"Deszcz:","#00a000",39],[50,183,"max","#00a000",19],[48,194,"średni","#00a000",30],
  [6,205,"Śnieg:","#1030c8",29],[48,205,"max","#1030c8",20],[48,216,"średni","#1030c8",30],
  [6,227,"Wystąpienie opadu","#f00000",88],[6,240,"konwekcyjnego","#f00000",71],
  [5,267,"Ciśnienie","#000",43],[5,280,"zredukowane","#000",67],[5,292.5,"do poziomu morza","#000",87],
  [5,321,"Wiatr na 10m:","#000",67],[10,338,"poryw powyżej skali","#f00000",101],[10,352,"max porywy wiatru","#f00000",94],
  [10,371,"prędkość wiatru","#0000a0",78],[10,385,"w środku obszaru","#0000a0",88],[10,412,"kierunek wiatru","#0000a0",73],
  [6,432,"Wierzchołek chmur","#a02028",91],[6,447.5,"Podstawa chmur*","#000",86],[6,459,"o pokryciu","#000",47],
  [11,472,"> 7.9 okt.","#000",43],[11,483,"> 6.5 okt.","#505050",43],[10,494,"> 4.5 okt.","#a0a0a0",44],[10,504,"> 2.5 okt.","#dcd6d0",44],
  [6,529,"Widzialność",ORANGE,57],[6,547,"Chmury:","#000",38],[10,572,"średnie","#a0a0a0",35],[10,584.5,"niskie","#404040",26],[10,596.5,"bardzo niskie","#303030",61],
  [6,608,"Mgła",FOGCOL,20],[6,625.5,"Czas uniwersalny (UTC)","#000",131],
];
svg.append("rect").attr("x",11).attr("y",505).attr("width",44).attr("height",12).attr("fill",SKY);
svg.append("rect").attr("x",10).attr("y",551).attr("width",41).attr("height",12).attr("fill",SKY);
legend.forEach(([x,y,s,c,w]) => txt(x,y,s,c,w));
txt(11,514.5,"> 0.1 okt.","#fff",43); txt(11,559.5,"wysokie","#fff",40);
txt(5,651,"* powyżej poziomu morza","#000",102).style("font-size","10px").style("font-weight","bold");

const leaders = [
  [[68,16],[133,16],[157,43],"#000"],
  [[102,44],[120,44],[150,97],"#b22222"],
  [[92,77],[115,77],"#f00000"],[[130,77],[133,77],[155,102],"#f00000"],
  [[70,99],[133,99],[147,107],"#0000e0"],
  [[94,120],[125,120],[135,114],"#6a5fd8"],
  [[102,138],[137,138],[146,147],"#f00000"],
  [[106,151],[112,151],RHCOL],[[130,151],[143,162],RHCOL],
  [[103,165],[113,165],"#000"],[[130,165],[139,173],"#000"],
  [[70,179],[127,179],"#00a000"],[[80,190],[136,190],"#00a000"],
  [[70,202],[113,202],"#1030c8"],[[130,202],[135,202],[160,171],"#1030c8"],
  [[80,213],[130,213],[162,190],"#1030c8"],
  [[95,224],[140,224],[146,220],"#f00000"],
  [[52,264],[135,264],"#000"],
  [[112,334],[118,334],"#f00000"],[[130,334],[133,334],[139,316],"#f00000"],
  [[107,348],[130,348],[145,340],"#f00000"],
  [[92,367],[136,367],"#0000a0"],[[86,410],[136,410],"#0000a0"],
  [[100,430],[135,430],[185,448],"#a02028"],
  [[57,468],[135,468],[191,456],"#000"],[[57,480],[143,480],"#505050"],
  [[57,490],[130,490],[137,498],"#a0a0a0"],[[57,500],[130,500],[137,505],"#dcd6d0"],
  [[57,510],[135,510],SKY],[[57,512],[135,512],SKY],
  [[67,527],[128,527],[173,463],ORANGE],
  [[54,557],[186,557],SKY],[[54,559],[186,559],SKY],
  [[49,571],[192,571],"#a0a0a0"],[[40,582],[122,582],"#404040"],[[74,594],[155,594],"#303030"],
  [[27,605],[217,605],[219,600],FOGCOL],
  [[140,623],[148,623],[157,610],"#000"],
];
const lineGen = d3.line();
leaders.forEach((p) => {
  const color = p[p.length - 1];
  svg.append("path").attr("d",lineGen(p.slice(0,-1))).attr("fill","none").attr("stroke",color).attr("stroke-width",1);
});
</script>
</body></html>
]]>
